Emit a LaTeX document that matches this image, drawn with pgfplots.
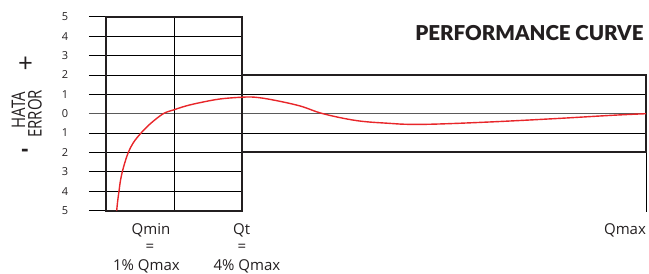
\documentclass[border=0pt]{standalone}
\usepackage{pgfplots}
\pgfplotsset{compat=1.18}
\usepackage{fontspec}
\setmainfont{Open Sans}
\newfontfamily\titlefont{Lato Black}
\definecolor{ink}{RGB}{35,31,32}
\definecolor{thin}{RGB}{55,55,55}
\definecolor{zero}{RGB}{90,90,90}
\definecolor{curve}{RGB}{232,38,42}
\begin{document}
\begin{tikzpicture}
\begin{axis}[
  x=1pt, y=19.37pt,
  xmin=89, xmax=646, ymin=-5, ymax=5,
  axis x line=none, axis y line=left,
  y axis line style={draw=none},
  ytick={-5,-4,-3,-2,-1,0,1,2,3,4,5},
  yticklabels={5,4,3,2,1,0,1,2,3,4,5},
  major tick length=0pt,
  /pgf/number format/assume math mode=true,
  yticklabel style={anchor=center, xshift=-24pt, font=\fontsize{11}{12}\selectfont, text=ink},
  clip=false,
]
% bounding box of the whole picture (pixel frame)
\path (axis cs:0,5.87) rectangle (axis cs:649,-8.17);
% thin grid lines, left box
\foreach \v in {-4,-3,-2,-1,1,2,3,4} {
  \edef\temp{\noexpand\draw[thin, line width=0.9pt] (axis cs:89,\v) -- (axis cs:242,\v);}
  \temp
}
\draw[thin, line width=0.9pt] (axis cs:89,5) -- (axis cs:106,5);
\draw[thin, line width=0.9pt] (axis cs:89,-5) -- (axis cs:106,-5);
% thin lines, right box
\draw[thin, line width=0.9pt] (axis cs:242,1) -- (axis cs:646,1);
\draw[thin, line width=0.9pt] (axis cs:242,-1) -- (axis cs:646,-1);
\draw[zero, line width=1.5pt] (axis cs:89,0) -- (axis cs:646,0);
% vertical middle line
\draw[thin, line width=0.9pt] (axis cs:174,-5) -- (axis cs:174,5);
\draw[thin, line width=0.9pt] (axis cs:646,-2) -- (axis cs:646,-5.05);
% thick borders
\draw[ink, line width=2pt] (axis cs:106,-5) rectangle (axis cs:242,5);
\draw[ink, line width=2pt] (axis cs:242,2) -- (axis cs:646,2) -- (axis cs:646,-2) -- (axis cs:242,-2);
% performance curve
\addplot[curve, line width=1.4pt, smooth, tension=0.6] coordinates {
(116.7,-5) (117.7,-4.5) (119,-4) (120.3,-3.5) (122.3,-3) (125,-2.5) (128.3,-2)
(133.3,-1.5) (141,-1) (150.7,-0.5) (163.3,0) (173.3,0.19) (186,0.40) (200,0.57)
(220,0.76) (241.7,0.85) (255,0.85) (273,0.71) (300,0.4) (323,0) (357,-0.36)
(390,-0.5) (410,-0.55) (440,-0.53) (497,-0.41) (560,-0.24) (613,-0.08) (646,0)
};
% texts
\node[anchor=east, text=ink, font=\titlefont\fontsize{20.5}{24}\selectfont] at (axis cs:647,4.17) {PERFORMANCE CURVE};
\node[rotate=90, text=ink, inner sep=0pt, font=\fontsize{15}{16}\selectfont] at (axis cs:18.3,0.19) {\scalebox{1}[1.25]{HATA}};
\node[rotate=90, text=ink, inner sep=0pt, font=\fontsize{15}{16}\selectfont] at (axis cs:35,0) {\scalebox{1}[1.25]{ERROR}};
\node[text=ink, inner sep=0pt, font=\fontsize{26}{28}\selectfont] at (axis cs:25.5,2.54) {+};
\node[text=ink, inner sep=0pt, font=\bfseries\fontsize{22}{24}\selectfont] at (axis cs:25,-2.03) {-};
\node[anchor=base, text=ink, inner sep=0pt, font=\fontsize{15}{17}\selectfont] at (axis cs:151,-6.26) {Qmin};
\node[text=ink, inner sep=0pt, font=\fontsize{15}{17}\selectfont] at (axis cs:150,-6.91) {=};
\node[anchor=base, text=ink, inner sep=0pt, font=\fontsize{15}{17}\selectfont] at (axis cs:146.5,-8.1) {1\% Qmax};
\node[anchor=base, text=ink, inner sep=0pt, font=\fontsize{15}{17}\selectfont] at (axis cs:241.7,-6.26) {Qt};
\node[text=ink, inner sep=0pt, font=\fontsize{15}{17}\selectfont] at (axis cs:242,-6.91) {=};
\node[anchor=base, text=ink, inner sep=0pt, font=\fontsize{15}{17}\selectfont] at (axis cs:247,-8.1) {4\% Qmax};
\node[anchor=base, text=ink, inner sep=0pt, font=\fontsize{15}{17}\selectfont] at (axis cs:625,-6.26) {Qmax};
\end{axis}
\end{tikzpicture}
\end{document}
